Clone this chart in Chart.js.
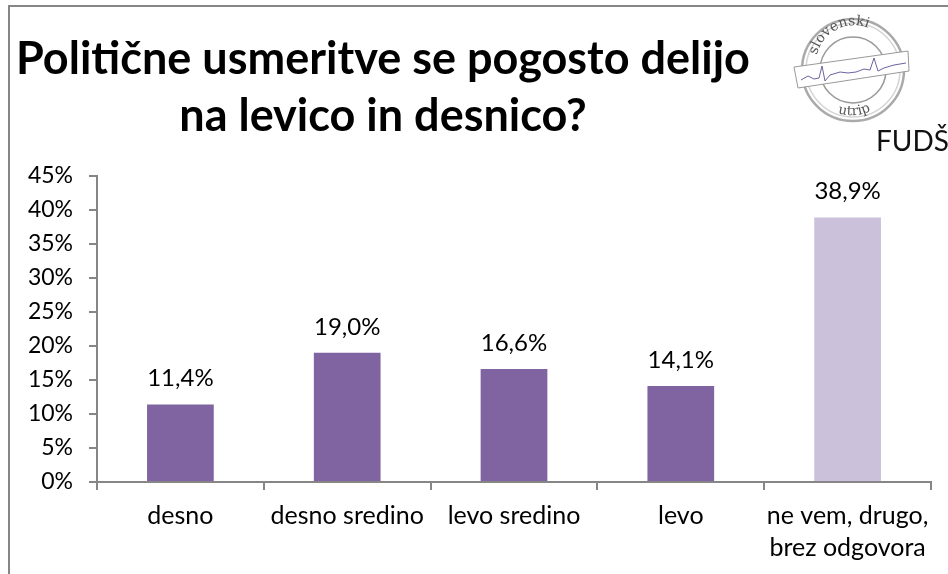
<!DOCTYPE html>
<html>
<head>
<meta charset="utf-8">
<script src="https://cdn.jsdelivr.net/npm/chart.js@4/dist/chart.umd.min.js"></script>
<style>
html, body { margin: 0; padding: 0; background: #fff; overflow: hidden; }
#wrap { position: relative; width: 948px; height: 574px; font-family: Lato, "Open Sans", sans-serif; color: #000; }
#chart { position: absolute; left: 0; top: 0; }
#frame { position: absolute; left: 8px; top: 5px; width: 948px; height: 580px; border: 2px solid #868686; }
#title { position: absolute; left: 8px; width: 750px; top: 29px; text-align: center; font-size: 45px; font-weight: 700; line-height: 57px; white-space: nowrap; }
#logo { position: absolute; left: 770px; top: 0; }
#fuds { position: absolute; left: 876px; top: 122px; font-size: 28px; line-height: 36px; color: #111; }
</style>
</head>
<body>
<div id="wrap">
  <canvas id="chart" width="948" height="574"></canvas>
  <div id="frame"></div>
  <div id="title">Politične usmeritve se pogosto delijo<br>na levico in desnico?</div>
  <svg id="logo" width="150" height="130" viewBox="0 0 150 130">
    <defs>
      <path id="arcTop" d="M 47 55 A 38 38 0 0 1 118 46"/>
      <path id="arcBottom" d="M 68 113 A 44 44 0 0 0 115 100"/>
    </defs>
    <circle cx="83" cy="70" r="51" fill="none" stroke="#aaa" stroke-width="2.5"/>
    <circle cx="83" cy="70" r="47" fill="none" stroke="#d4d4d4" stroke-width="1.5"/>
    <circle cx="83" cy="70" r="33" fill="none" stroke="#999" stroke-width="1.5"/>
    <text font-family="DejaVu Serif, serif" font-size="14" fill="#555"><textPath href="#arcTop">slovenski</textPath></text>
    <text font-family="DejaVu Serif, serif" font-size="13.5" fill="#555"><textPath href="#arcBottom">utrip</textPath></text>
    <polygon points="24,67 138,51 139,71 28,88" fill="#fff" stroke="#999" stroke-width="1"/>
    <polyline points="31,80 38,76 44,79 49,78 52,66 55,81 60,75 70,72 78,73 86,72 94,69 100,70 104,58 108,71 114,68 124,65 136,63" fill="none" stroke="#6a64a0" stroke-width="1"/>
  </svg>
  <div id="fuds">FUDŠ</div>
</div>
<script>
var categories = ['desno', 'desno sredino', 'levo sredino', 'levo', ['ne vem, drugo,', 'brez odgovora']];
var values = [11.4, 19.0, 16.6, 14.1, 38.9];
var barColors = ['#8064A2', '#8064A2', '#8064A2', '#8064A2', '#CCC1DA'];
var yMax = 45;
var yStep = 5;

var fontFamily = 'Lato, "Open Sans", sans-serif';

// oznake nad stolpci
var barLabels = {
  id: 'barLabels',
  afterDatasetsDraw: function (chart) {
    var ctx = chart.ctx;
    var meta = chart.getDatasetMeta(0);
    ctx.save();
    ctx.font = '24px ' + fontFamily;
    ctx.fillStyle = '#000';
    ctx.textAlign = 'center';
    ctx.textBaseline = 'middle';
    meta.data.forEach(function (bar, i) {
      ctx.fillText(values[i].toFixed(1).replace('.', ',') + '%', bar.x, bar.y - 26);
    });
    ctx.restore();
  }
};

new Chart(document.getElementById('chart'), {
  type: 'bar',
  data: {
    labels: categories,
    datasets: [{
      data: values,
      backgroundColor: barColors,
      barPercentage: 0.4,
      categoryPercentage: 1
    }]
  },
  options: {
    responsive: false,
    animation: false,
    layout: { padding: { top: 176, right: 17, left: 0, bottom: 0 } },
    plugins: { legend: { display: false }, tooltip: { enabled: false } },
    scales: {
      x: {
        offset: true,
        afterFit: function (scale) { scale.height = 92; },
        grid: { offset: true, drawOnChartArea: false, color: '#868686', tickLength: 8, lineWidth: 2 },
        border: { color: '#868686', width: 2 },
        ticks: { color: '#000', font: { family: fontFamily, size: 25, lineHeight: 1.28 }, padding: 10, maxRotation: 0, autoSkip: false }
      },
      y: {
        min: 0,
        max: yMax,
        afterFit: function (scale) { scale.width = 97; },
        grid: { drawOnChartArea: false, color: '#868686', tickLength: 8, lineWidth: 2 },
        border: { color: '#868686', width: 2 },
        ticks: {
          stepSize: yStep,
          color: '#000',
          font: { family: fontFamily, size: 23 },
          padding: 16,
          callback: function (v) { return v + '%'; }
        }
      }
    }
  },
  plugins: [barLabels]
});
</script>
</body>
</html>
